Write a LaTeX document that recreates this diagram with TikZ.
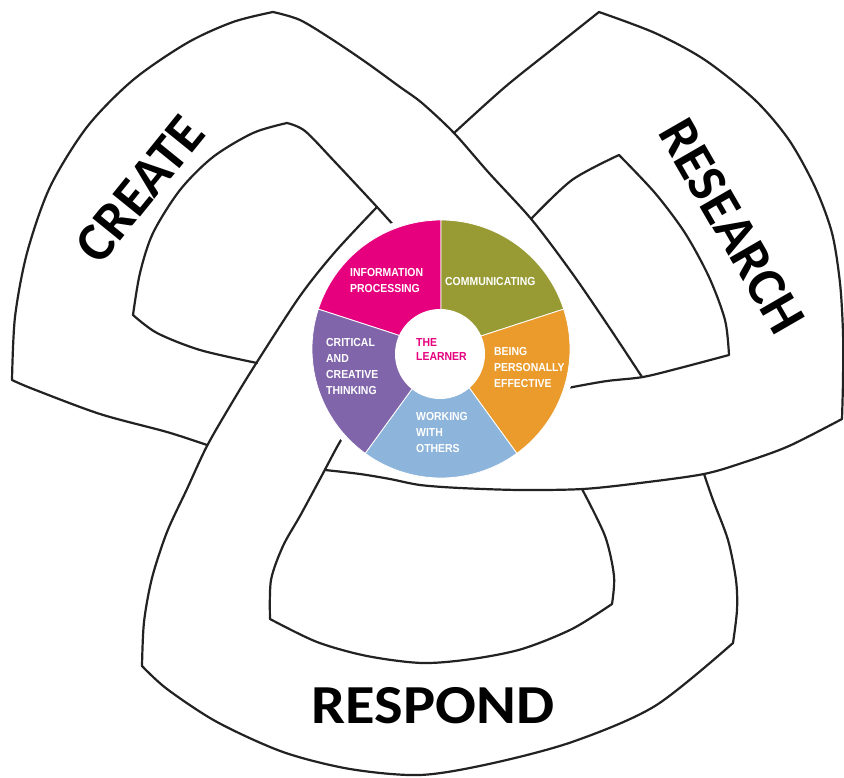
\documentclass[tikz,border=0pt]{standalone}
\usepackage{fontspec}
\usepackage{graphicx}
\newfontfamily\bandfont{Carlito}
\newfontfamily\piefont[FakeStretch=0.9]{Liberation Sans}

\definecolor{pmag}{HTML}{E6007E}
\definecolor{polive}{HTML}{989B33}
\definecolor{porange}{HTML}{EA9B2C}
\definecolor{pblue}{HTML}{8DB4DB}
\definecolor{ppurple}{HTML}{8165AB}
\definecolor{ink}{HTML}{222222}

% soft grey vignette towards the corners
\pgfdeclareradialshading{halo}{\pgfpoint{0bp}{0bp}}{color(0bp)=(white); color(50bp)=(white); color(58bp)=(black!6); color(72bp)=(black!10)}

\begin{document}
\begin{tikzpicture}[x=1pt,y=-1pt,
  band/.style={draw=ink, line width=2.2pt, line join=round, line cap=round},
  bandlabel/.style={font=\bandfont\bfseries\fontsize{55}{55}\selectfont, inner sep=0pt, text=black},
  pietext/.style={font=\piefont\bfseries\fontsize{11.6}{16}\selectfont, text=white, align=left, inner sep=0pt, anchor=west},
  wedge/.style={draw=white, line width=0.8pt}
]
\useasboundingbox (0,0) rectangle (844,778);
\shade[shading=halo] (0,0) rectangle (844,778);

% ---- CREATE band ----
\draw[band] plot[smooth] coordinates {(207,445) (167,432) (100,414) (33,389) (12,380)}
  -- plot[smooth] coordinates {(12,380) (15,317) (27,253) (50,187) (87,127) (133,80) (187,43) (233,22) (273,12)}
  -- plot[smooth] coordinates {(273,12) (300,20) (333,40) (367,63) (400,87) (422,103) (454,133) (489,173) (532,220) (572,273) (609,327) (642,377)};
\draw[band] plot[smooth] coordinates {(257,363) (200,350) (157,333) (133,315)}
  -- plot[smooth] coordinates {(133,315) (140,273) (153,233) (180,190) (213,157) (253,133) (287,123)}
  -- plot[smooth] coordinates {(287,123) (305,131) (335,162) (377,207) (405,238)};

% ---- RESEARCH band ----
\draw[band] plot[smooth] coordinates {(454,133) (505,87) (555,47) (599,12)}
  -- plot[smooth] coordinates {(599,12) (655,33) (705,60) (755,100) (789,140) (815,187) (832,233) (840,283) (843,333) (843,380) (842,419)}
  -- plot[smooth] coordinates {(842,419) (789,446) (745,462) (704,474) (640,483) (583,489) (520,490) (460,488) (420,485) (390,479) (360,474) (325,470)};
\draw[band] plot[smooth] coordinates {(531,219) (572,180) (619,155)}
  -- plot[smooth] coordinates {(619,155) (655,193) (685,233) (709,277) (725,320) (729,355)}
  -- plot[smooth] coordinates {(729,355) (680,368) (643,377) (607,381) (573,387) (550,392)};

% ---- RESPOND band ----
\draw[band] plot[smooth] coordinates {(377,207) (335,252) (300,296) (257,362) (233,401) (207,446) (187,489) (167,532) (152,578) (144,622) (142,666)}
  -- plot[smooth] coordinates {(142,666) (167,689) (217,722) (283,752) (350,769) (420,775) (489,764) (572,742) (655,706) (733,643)}
  -- plot[smooth] coordinates {(733,643) (737,610) (736,580) (728,540) (713,500) (704,474)};
\draw[band] plot[smooth] coordinates {(582,489) (605,536) (614,576) (612,604)}
  -- plot[smooth] coordinates {(612,604) (572,629) (522,649) (472,659) (422,663) (367,656) (317,642) (270,619)}
  -- plot[smooth] coordinates {(270,619) (271,580) (283,546) (300,516) (320,479) (337,447) (350,425)};

% ---- band labels ----
\node[bandlabel, rotate=51] (create) at (140,189) {CREATE};
\node[bandlabel, rotate=-60] (research) at (732,226) {RESEARCH};
\node[bandlabel] (respond) at (433,706) {\scalebox{1.1}[1]{RESPOND}};

% ---- the learner wheel ----
\fill[white] (441,349) circle[radius=135];
\begin{scope}[shift={(441,349)}, yscale=-1]
  \filldraw[wedge, fill=pmag]    (0,0) -- (90:129)  arc[start angle=90,  end angle=162, radius=129] -- cycle;
  \filldraw[wedge, fill=polive]  (0,0) -- (18:129)  arc[start angle=18,  end angle=90,  radius=129] -- cycle;
  \filldraw[wedge, fill=porange] (0,0) -- (-54:129) arc[start angle=-54, end angle=18,  radius=129] -- cycle;
  \filldraw[wedge, fill=pblue]   (0,0) -- (-126:129) arc[start angle=-126, end angle=-54, radius=129] -- cycle;
  \filldraw[wedge, fill=ppurple] (0,0) -- (162:129) arc[start angle=162, end angle=234, radius=129] -- cycle;
\end{scope}
\fill[white] (440,354) circle[radius=45];

\node[pietext] (info) at (350,281) {INFORMATION\\PROCESSING};
\node[pietext] (comm) at (445,282) {COMMUNICATING};
\node[pietext] (being) at (494,367.5) {BEING\\PERSONALLY\\EFFECTIVE};
\node[pietext] (crit) at (326,367) {CRITICAL\\AND\\CREATIVE\\THINKING};
\node[pietext] (work) at (416,433) {WORKING\\WITH\\OTHERS};
\node[pietext, text=pmag, font=\piefont\bfseries\fontsize{11.6}{14}\selectfont] (learner) at (416,350) {THE\\LEARNER};
\end{tikzpicture}
\end{document}
